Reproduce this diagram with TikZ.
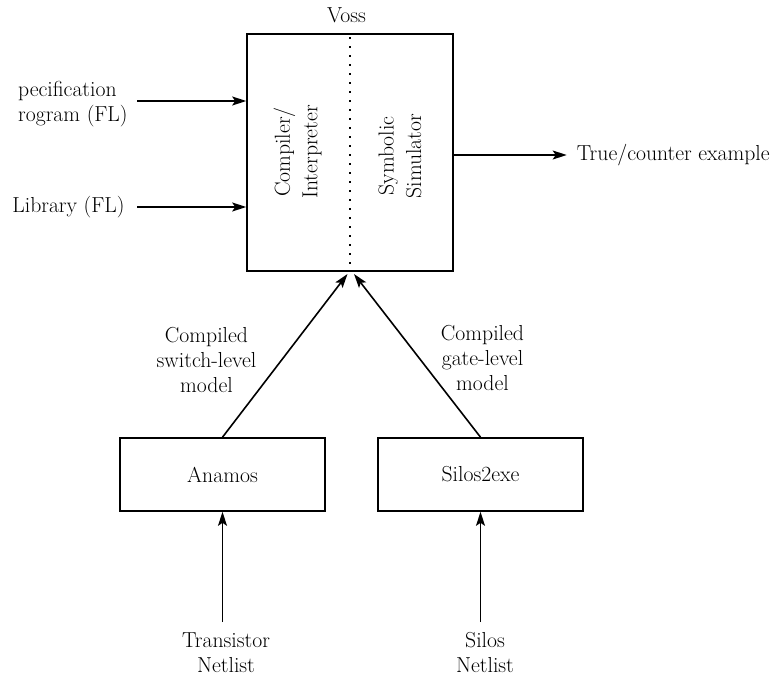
\documentclass[tikz,border=0pt]{standalone}
\usetikzlibrary{arrows.meta}
\begin{document}
\begin{tikzpicture}[x=1pt,y=-1pt,
  lbl/.style={font=\fontsize{21.7}{25}\selectfont, align=center, inner sep=0pt},
  rlbl/.style={font=\fontsize{21.7}{27.5}\selectfont, align=center, inner sep=0pt, rotate=90},
  blk/.style={draw, line width=1.6pt, inner sep=0pt},
  arr/.style={-{Stealth[length=14pt,width=9pt,inset=3pt]}, line width=1.6pt},
]
\useasboundingbox (0,0) rectangle (771,677);
% main box
\node[blk, minimum width=206pt, minimum height=237pt] (voss) at (350,152.5) {};
\node[lbl] (vosslbl) at (346.5,15) {Voss};
\draw[line width=1.4pt, dash pattern=on 1.4pt off 7.6pt, dash phase=-4pt] (voss.north) -- (voss.south);
\node[rlbl] (ci) at (297.5,152) {Compiler/\\Interpreter};
\node[rlbl] (ss) at (400,156) {Symbolic\\Simulator};
% inputs
\node[lbl, align=left, anchor=west] (spec) at (18,104.5) {pecification\\rogram (FL)};
\coordinate (specOut) at (137,101);
\draw[arr] (specOut) -- (specOut -| voss.west);
\node[lbl] (lib) at (68.5,207) {Library (FL)};
\coordinate (libOut) at (137,207);
\draw[arr] (libOut) -- (libOut -| voss.west);
% output
\node[lbl, anchor=west] (tce) at (576.7,155) {True/counter example};
\draw[arr] (voss.east |- tce.west) -- ([xshift=-10pt]tce.west);
% lower boxes
\node[blk, minimum width=205pt, minimum height=73pt, lbl] (an) at (222.5,474.5) {Anamos};
\node[blk, minimum width=205pt, minimum height=73pt, lbl] (sil) at (480.5,474.5) {Silos2exe};
\coordinate (tipL) at (347.5,274);
\coordinate (tipR) at (354,274);
\draw[arr] (an.north) -- (tipL);
\draw[arr] (sil.north) -- (tipR);
\node[lbl] (swl) at (206.5,360) {Compiled\\switch-level\\model};
\node[lbl] (gl) at (482.5,358) {Compiled\\gate-level\\model};
% netlists
\node[lbl] (tr) at (226,652.5) {Transistor\\Netlist};
\node[lbl] (sn) at (485,652.5) {Silos\\Netlist};
\coordinate (trTop) at (222.5,622);
\coordinate (snTop) at (480.5,622);
\draw[arr] (trTop) -- (an.south);
\draw[arr] (snTop) -- (sil.south);
\end{tikzpicture}
\end{document}
